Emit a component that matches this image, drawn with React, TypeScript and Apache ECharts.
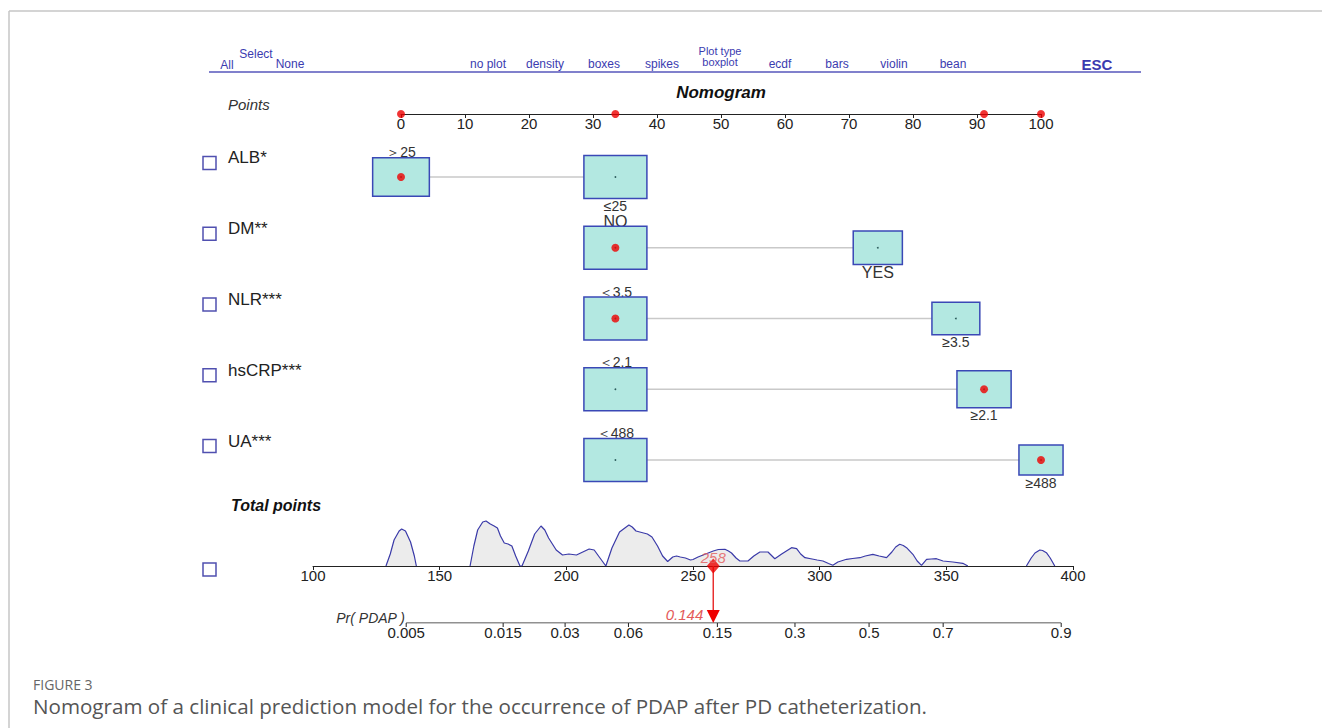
import React, { useEffect, useRef } from 'react';
import * as echarts from 'echarts';

// ---------------- data ----------------
const menuChoices = ['no plot', 'density', 'boxes', 'spikes', 'boxplot', 'ecdf', 'bars', 'violin', 'bean'];
const predictors = ['ALB*', 'DM**', 'NLR***', 'hsCRP***', 'UA***'];
const levelALabels = ['＞25', 'NO', '＜3.5', '＜2.1', '＜488'];
const levelAPoints = [0, 33.5, 33.5, 33.5, 33.5];
const levelASize = [0.9, 1, 1, 1, 1];
const levelBLabels = ['≤25', 'YES', '≥3.5', '≥2.1', '≥488'];
const levelBPoints = [33.5, 74.5, 86.7, 91.1, 100];
const levelBSize = [1, 0.78, 0.76, 0.86, 0.7];
const selectedIsB = [false, false, false, true, true];

const densityX = [
  128.8, 130.5, 132, 134, 135, 136.5, 138.5, 140, 140.8,
  null,
  162, 163.5, 165, 167, 168.3, 170, 171.5, 172.8, 174, 175.5, 177, 178.5, 180, 181.7,
  182.5, 185, 187.5, 190, 191.5, 193, 194.5, 196, 198.5, 201, 204, 206.5, 209, 211, 213, 215.6,
  218, 221, 224.7, 226, 227.5, 229, 230.5, 232, 233.8, 236, 238, 240, 242, 243.5, 245, 247, 249, 250,
  252, 254, 256, 258, 260, 262.6, 264, 265.2, 267, 268.5, 271.7, 274, 276.4, 279.6, 282.3, 285, 288.9,
  290.9, 292.5, 294.2, 297, 299, 301.3, 303.5, 305.2, 307.2, 310.6, 313, 315.9, 318, 321, 323.5, 326.4,
  328.5, 330, 331.6, 333, 334.3, 336.8, 338.5, 340.2, 342.2, 344, 346.1, 348.7, 352.6, 356.5, 358.5,
  null,
  381.6, 383.5, 385, 386.9, 388, 389.5, 391, 392.8,
];
const densityY = [
  0, 12, 26, 35, 37, 35, 24, 10, 0,
  null,
  0, 20, 36, 44, 45, 42, 40, 38, 30, 23, 22, 20, 10, 0,
  0, 15, 32, 40, 36, 28, 22, 16, 11, 12, 11, 14, 17, 16, 9, 0,
  18, 34, 41, 39, 35, 34, 33, 32, 29, 20, 10, 4.5, 9, 10, 9, 8, 6, 6.5,
  9, 11, 13, 15, 16.5, 16.7, 15, 13, 8, 5, 5, 10, 14, 14, 7.3, 12, 18.3,
  17.3, 12, 8.3, 7, 6, 5, 2.5, 0.7, 4, 6.7, 7.5, 8.3, 10, 11.7, 10, 8.3,
  14, 19, 21.7, 20.5, 18.3, 11.7, 5, 0.7, 6.7, 7, 7.3, 5, 4, 2.7, 0,
  null,
  0, 8, 13, 16, 15.5, 13.3, 8, 0,
];
const probTicks = [0.005, 0.015, 0.03, 0.06, 0.15, 0.3, 0.5, 0.7, 0.9];
const lpIntercept = -9.256;
const lpSlope = 0.02897;

// ---------------- helpers ----------------
const FF = "'Liberation Sans', Arial, sans-serif";
const logit = (p: number) => Math.log(p / (1 - p));
const totalOf = (p: number) => (logit(p) - lpIntercept) / lpSlope;
const probOf = (t: number) => 1 / (1 + Math.exp(-(lpIntercept + lpSlope * t)));

const selectedPoints = predictors.map((_, i) => (selectedIsB[i] ? levelBPoints[i] : levelAPoints[i]));
const totalPoints = Math.round(selectedPoints.reduce((a, b) => a + b, 0));
const predictedProb = probOf(totalPoints);

const boxItems: { value: number[]; label: string; above: boolean; selected: boolean }[] = [];
predictors.forEach((_, i) => {
  boxItems.push({ value: [levelAPoints[i], i, levelASize[i]], label: levelALabels[i], above: true, selected: !selectedIsB[i] });
  boxItems.push({ value: [levelBPoints[i], i, levelBSize[i]], label: levelBLabels[i], above: false, selected: selectedIsB[i] });
});

const menuX = [488, 545, 604, 662, 720, 780, 837, 894, 953];

function txt(x: number, y: number, text: string, opts: any = {}) {
  return {
    type: 'text',
    x,
    y,
    silent: true,
    style: {
      text,
      fill: opts.fill || '#222',
      font: opts.font || `15px ${FF}`,
      align: opts.align || 'left',
      textAlign: opts.align || 'left',
      verticalAlign: 'middle',
      textVerticalAlign: 'middle',
    },
  };
}

export default function App() {
  const ref = useRef<HTMLDivElement>(null);
  useEffect(() => {
    document.body.style.margin = '0';
    if (!ref.current) return;
    const chart = echarts.init(ref.current, null, { renderer: 'svg' });

    const axisStyle = {
      axisLine: { show: true, onZero: false, lineStyle: { color: '#222', width: 1 } },
      axisTick: { show: true, length: 4, lineStyle: { color: '#222', width: 1 } },
      axisLabel: { margin: 2, fontSize: 15, color: '#222', fontFamily: FF },
      splitLine: { show: false },
    };

    const MENU = '#3b3bb0';
    const CAP = "'Open Sans', 'Noto Sans', sans-serif";
    const graphics: any[] = [
      { type: 'line', silent: true, shape: { x1: 9, y1: 11, x2: 1322, y2: 11 }, style: { stroke: '#c6c6c6', lineWidth: 1.5 } },
      { type: 'line', silent: true, shape: { x1: 9, y1: 11, x2: 9, y2: 728 }, style: { stroke: '#c6c6c6', lineWidth: 1.5 } },
      { type: 'line', silent: true, shape: { x1: 209, y1: 72, x2: 1141, y2: 72 }, style: { stroke: '#5656bb', lineWidth: 1.5 } },
      txt(227, 65, 'All', { fill: MENU, font: `12px ${FF}`, align: 'center' }),
      txt(256, 54, 'Select', { fill: MENU, font: `12px ${FF}`, align: 'center' }),
      txt(290, 64, 'None', { fill: MENU, font: `12px ${FF}`, align: 'center' }),
      txt(720, 51, 'Plot type', { fill: MENU, font: `11px ${FF}`, align: 'center' }),
      txt(1097, 64, 'ESC', { fill: MENU, font: `bold 15px ${FF}`, align: 'center' }),
      ...menuChoices.map((m, i) =>
        m === 'boxplot'
          ? txt(menuX[i], 62, m, { fill: MENU, font: `11px ${FF}`, align: 'center' })
          : txt(menuX[i], 64, m, { fill: MENU, font: `12px ${FF}`, align: 'center' })
      ),
      txt(721, 92, 'Nomogram', { font: `italic bold 17px ${FF}`, align: 'center', fill: '#111' }),
      txt(228, 104, 'Points', { font: `italic 15px ${FF}`, fill: '#333' }),
      txt(231, 505, 'Total points', { font: `italic bold 16px ${FF}`, fill: '#111' }),
      { type: 'rect', silent: true, shape: { x: 203, y: 563, width: 13, height: 13 }, style: { fill: 'none', stroke: '#5050b0', lineWidth: 1.5 } },
      txt(405, 618, 'Pr( PDAP )', { font: `italic 14px ${FF}`, align: 'right', fill: '#333' }),
      txt(33, 684, 'FIGURE 3', { font: `14px 'Liberation Sans Narrow', ${CAP}`, fill: '#666' }),
      txt(33, 706, 'Nomogram of a clinical prediction model for the occurrence of PDAP after PD catheterization.', {
        font: `20.6px ${CAP}`,
        fill: '#555',
      }),
    ];

    const densityData = densityX.map((x, i) => (x === null ? ['-', '-'] : [x, densityY[i]]));

    const option: any = {
      animation: false,
      backgroundColor: '#ffffff',
      grid: [
        { left: 401, width: 640, top: 100, height: 14 },
        { left: 401, width: 640, top: 141.6, height: 353.8 },
        { left: 313, width: 760, top: 516, height: 50 },
        { left: 313, width: 760, top: 612, height: 11 },
      ],
      xAxis: [
        { gridIndex: 0, type: 'value', min: 0, max: 100, interval: 10, ...axisStyle },
        { gridIndex: 1, type: 'value', min: 0, max: 100, show: false },
        { gridIndex: 2, type: 'value', min: 100, max: 400, interval: 50, ...axisStyle },
        { gridIndex: 3, type: 'value', min: 100, max: 400, show: false },
      ],
      yAxis: [
        { gridIndex: 0, type: 'value', min: 0, max: 1, show: false },
        { gridIndex: 1, type: 'category', data: predictors, inverse: true, show: false },
        { gridIndex: 2, type: 'value', min: 0, max: 50, show: false },
        { gridIndex: 3, type: 'value', min: 0, max: 1, show: false },
      ],
      graphic: { elements: graphics },
      series: [
        {
          type: 'scatter',
          xAxisIndex: 0,
          yAxisIndex: 0,
          clip: false,
          symbolSize: 8,
          itemStyle: { color: '#ee0000' },
          data: Array.from(new Set(selectedPoints)).map((p) => [p, 0]),
          z: 5,
        },
        {
          type: 'custom',
          xAxisIndex: 1,
          yAxisIndex: 1,
          clip: false,
          z: 1,
          data: predictors.map((_, i) => [levelAPoints[i], levelBPoints[i], i]),
          renderItem: (params: any, api: any) => {
            const a = api.coord([api.value(0), api.value(2)]);
            const b = api.coord([api.value(1), api.value(2)]);
            return {
              type: 'line',
              shape: { x1: a[0], y1: a[1], x2: b[0], y2: b[1] },
              style: { stroke: '#c9c9c9', lineWidth: 1.5 },
            };
          },
        },
        {
          type: 'custom',
          xAxisIndex: 1,
          yAxisIndex: 1,
          clip: false,
          z: 2,
          data: boxItems.map((b) => b.value),
          renderItem: (params: any, api: any) => {
            const item = boxItems[params.dataIndex];
            const c = api.coord([api.value(0), api.value(1)]);
            const s = api.value(2);
            const w = 63 * s;
            const h = 43 * s;
            const isYesNo = item.label === 'NO' || item.label === 'YES';
            const font = isYesNo ? `16px 'Liberation Sans Narrow', ${FF}` : `14px ${FF}`;
            return {
              type: 'group',
              children: [
                {
                  type: 'text',
                  style: {
                    text: item.label,
                    x: c[0],
                    y: item.above ? c[1] - h / 2 + (isYesNo ? 2 : 1) : c[1] + h / 2 + 1,
                    align: 'center',
                    textAlign: 'center',
                    verticalAlign: item.above ? 'bottom' : 'top',
                    textVerticalAlign: item.above ? 'bottom' : 'top',
                    lineHeight: isYesNo ? 14 : 13,
                    fill: '#333',
                    font,
                  },
                },
                {
                  type: 'rect',
                  shape: { x: c[0] - w / 2, y: c[1] - h / 2, width: w, height: h },
                  style: { fill: '#b3e8e1', stroke: '#3a48b6', lineWidth: 1.5 },
                },
                {
                  type: 'circle',
                  shape: { cx: c[0], cy: c[1], r: 0.9 },
                  style: { fill: '#2d5c5c' },
                },
              ],
            };
          },
        },
        {
          type: 'scatter',
          xAxisIndex: 1,
          yAxisIndex: 1,
          clip: false,
          symbolSize: 8,
          itemStyle: { color: '#ee0000' },
          z: 5,
          data: selectedPoints.map((p, i) => [p, i]),
        },
        {
          type: 'custom',
          xAxisIndex: 1,
          yAxisIndex: 1,
          clip: false,
          z: 3,
          data: predictors.map((_, i) => [0, i]),
          renderItem: (params: any, api: any) => {
            const c = api.coord([0, api.value(1)]);
            return {
              type: 'group',
              children: [
                {
                  type: 'rect',
                  shape: { x: 203, y: c[1] - 20.5, width: 13, height: 13 },
                  style: { fill: 'none', stroke: '#5050b0', lineWidth: 1.5 },
                },
                {
                  type: 'text',
                  style: {
                    text: predictors[params.dataIndex],
                    x: 228,
                    y: c[1] - 19,
                    align: 'left',
                    textAlign: 'left',
                    verticalAlign: 'middle',
                    textVerticalAlign: 'middle',
                    fill: '#222',
                    font: `17px ${FF}`,
                  },
                },
              ],
            };
          },
        },
        {
          type: 'line',
          xAxisIndex: 2,
          yAxisIndex: 2,
          showSymbol: false,
          symbol: 'none',
          connectNulls: false,
          smooth: false,
          lineStyle: { color: '#3a3aa8', width: 1.2 },
          areaStyle: { color: '#ececec', opacity: 1 },
          z: 2,
          data: densityData,
        },
        {
          type: 'scatter',
          xAxisIndex: 2,
          yAxisIndex: 2,
          clip: false,
          symbol: 'diamond',
          symbolSize: [13, 15],
          itemStyle: { color: '#ee0000' },
          z: 6,
          label: {
            show: true,
            position: 'inside',
            offset: [0, -9],
            formatter: () => String(totalPoints),
            color: '#e45a5a',
            fontStyle: 'italic',
            fontSize: 15,
            fontFamily: FF,
          },
          data: [[totalPoints, 0]],
        },
        {
          type: 'line',
          xAxisIndex: 3,
          yAxisIndex: 3,
          symbol: 'none',
          lineStyle: { color: '#222', width: 1 },
          z: 2,
          data: [
            [totalOf(probTicks[0]), 0],
            [totalOf(probTicks[probTicks.length - 1]), 0],
          ],
        },
        {
          type: 'custom',
          xAxisIndex: 3,
          yAxisIndex: 3,
          clip: false,
          z: 3,
          data: probTicks.map((p) => [totalOf(p), p]),
          renderItem: (params: any, api: any) => {
            const c = api.coord([api.value(0), 0]);
            return {
              type: 'group',
              children: [
                {
                  type: 'line',
                  shape: { x1: c[0], y1: c[1], x2: c[0], y2: c[1] + 4 },
                  style: { stroke: '#222', lineWidth: 1 },
                },
                {
                  type: 'text',
                  style: {
                    text: String(probTicks[params.dataIndex]),
                    x: c[0],
                    y: c[1] + 2,
                    align: 'center',
                    textAlign: 'center',
                    verticalAlign: 'top',
                    textVerticalAlign: 'top',
                    fill: '#222',
                    font: `15px ${FF}`,
                  },
                },
              ],
            };
          },
        },
        {
          type: 'custom',
          xAxisIndex: 3,
          yAxisIndex: 3,
          clip: false,
          z: 4,
          data: [[totalPoints, predictedProb]],
          renderItem: (params: any, api: any) => {
            const c = api.coord([api.value(0), 0]);
            return {
              type: 'group',
              children: [
                {
                  type: 'line',
                  shape: { x1: c[0], y1: c[1] - 57, x2: c[0], y2: c[1] - 12 },
                  style: { stroke: '#e83030', lineWidth: 1.5 },
                },
                {
                  type: 'polygon',
                  shape: { points: [[c[0] - 6.5, c[1] - 13], [c[0] + 6.5, c[1] - 13], [c[0], c[1]]] },
                  style: { fill: '#ee0000' },
                },
                {
                  type: 'text',
                  style: {
                    text: api.value(1).toFixed(3),
                    x: c[0] - 10,
                    y: c[1] - 9,
                    align: 'right',
                    textAlign: 'right',
                    verticalAlign: 'middle',
                    textVerticalAlign: 'middle',
                    fill: '#e45a5a',
                    font: `italic 15px ${FF}`,
                  },
                },
              ],
            };
          },
        },
      ],
    };

    chart.setOption(option);
    return () => chart.dispose();
  }, []);

  return <div ref={ref} style={{ width: 1322, height: 728 }} />;
}
